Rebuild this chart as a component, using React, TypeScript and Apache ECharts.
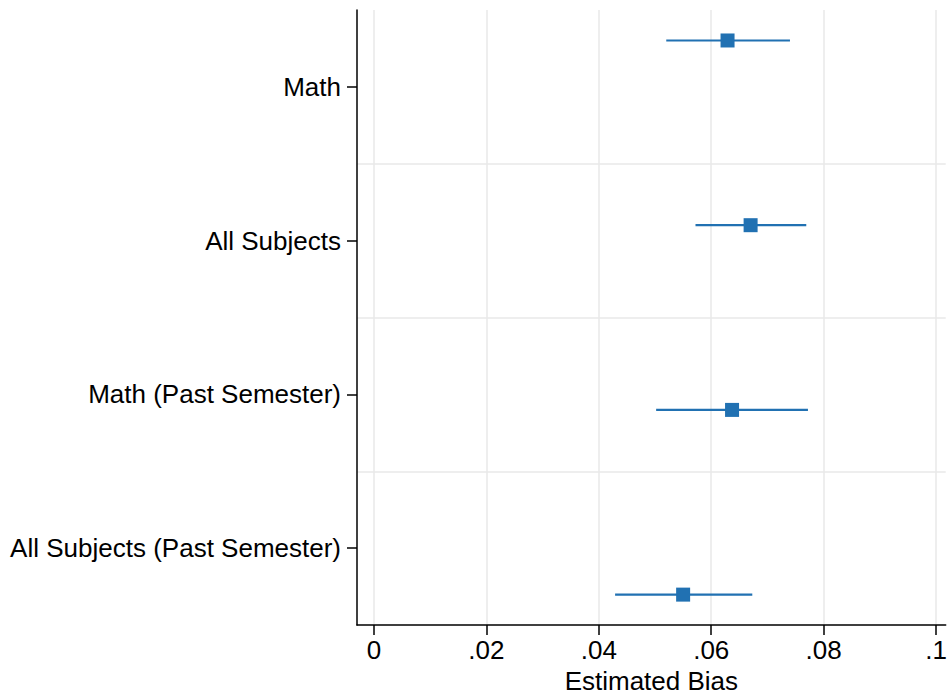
import React, { useEffect, useRef } from "react";
import * as echarts from "echarts";

const categories = [
  "Math",
  "All Subjects",
  "Math (Past Semester)",
  "All Subjects (Past Semester)",
];
const estimates = [0.0629, 0.067, 0.0637, 0.055];
const ciLow = [0.052, 0.0572, 0.0502, 0.0429];
const ciHigh = [0.074, 0.0769, 0.0772, 0.0673];
const pointRows = [1, 2, 3, 4];
const xTicks = [0, 0.02, 0.04, 0.06, 0.08, 0.1];
const xTitle = "Estimated Bias";

const FONT = '"Liberation Sans", Arial, Helvetica, sans-serif';
const BLUE = "#2171b2";

function fmt(v: number): string {
  if (v === 0) return "0";
  return String(Number(v.toFixed(3))).replace(/^0\./, ".");
}

export default function App() {
  const ref = useRef<HTMLDivElement>(null);
  useEffect(() => {
    if (!ref.current) return;
    const chart = echarts.init(ref.current, undefined, { renderer: "svg" });
    const barData = pointRows.map((r, i) => [ciLow[i], ciHigh[i], r]);
    const ptData = pointRows.map((r, i) => [estimates[i], r]);
    chart.setOption({
      animation: false,
      backgroundColor: "#ffffff",
      grid: { left: 357, right: 0, top: 10, bottom: 69, containLabel: false },
      xAxis: {
        type: "value",
        min: -0.003,
        max: 0.1017,
        name: xTitle,
        nameLocation: "middle",
        nameGap: 39,
        nameTextStyle: { fontFamily: FONT, fontSize: 26, color: "#000" },
        axisLine: { show: true, onZero: false, lineStyle: { color: "#000", width: 1.5 } },
        axisTick: {
          show: true,
          length: 10,
          customValues: xTicks,
          lineStyle: { color: "#000", width: 1.5 },
        },
        axisLabel: {
          customValues: xTicks,
          formatter: (v: number) => fmt(v),
          fontFamily: FONT,
          fontSize: 26,
          color: "#000",
          margin: 12,
        },
        splitLine: { show: true, lineStyle: { color: "#e8e8e8", width: 1.5 } },
      },
      yAxis: [
        {
          type: "category",
          data: categories,
          inverse: true,
          axisLine: { show: true, onZero: false, lineStyle: { color: "#000", width: 1.5 } },
          axisTick: {
            show: true,
            alignWithLabel: true,
            length: 10,
            lineStyle: { color: "#000", width: 1.5 },
          },
          axisLabel: {
            fontFamily: FONT,
            fontSize: 26,
            color: "#000",
            margin: 16,
          },
          splitLine: {
            show: true,
            showMinLine: false,
            showMaxLine: false,
            lineStyle: { color: "#e8e8e8", width: 1.5 },
          },
        },
        {
          type: "value",
          min: 0.835,
          max: 4.165,
          inverse: true,
          show: false,
          splitLine: { show: false },
        },
      ],
      series: [
        {
          type: "custom",
          xAxisIndex: 0,
          yAxisIndex: 1,
          encode: { x: [0, 1], y: 2 },
          data: barData,
          z: 2,
          renderItem: (params: any, api: any) => {
            const p1 = api.coord([api.value(0), api.value(2)]);
            const p2 = api.coord([api.value(1), api.value(2)]);
            return {
              type: "line",
              shape: { x1: p1[0], y1: p1[1], x2: p2[0], y2: p2[1] },
              style: { stroke: BLUE, lineWidth: 2.2 },
            };
          },
        },
        {
          type: "scatter",
          xAxisIndex: 0,
          yAxisIndex: 1,
          data: ptData,
          symbol: "rect",
          symbolSize: 14,
          itemStyle: { color: BLUE, opacity: 1 },
          z: 3,
        },
      ],
    });
    return () => chart.dispose();
  }, []);
  return (
    <div
      ref={ref}
      style={{ position: "fixed", left: 0, top: 0, width: 950, height: 699, background: "#fff" }}
    />
  );
}
